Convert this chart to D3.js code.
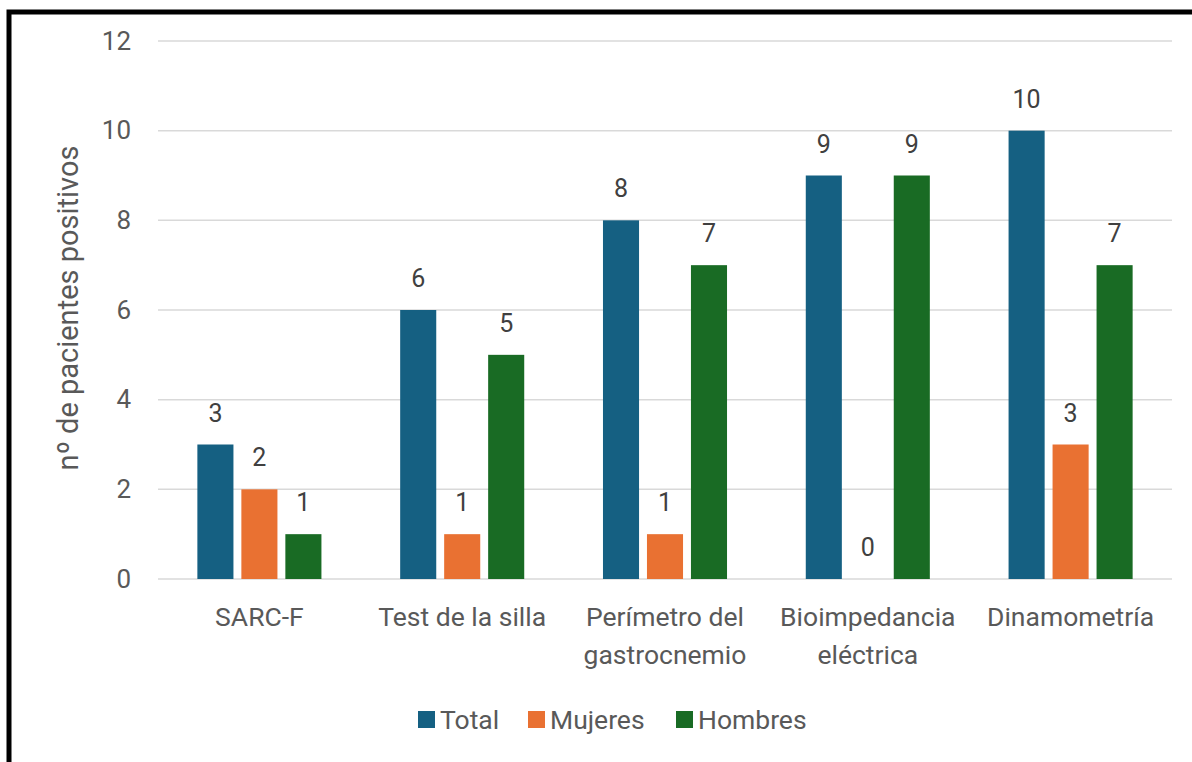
<!DOCTYPE html>
<html><head><meta charset="utf-8">
<script src="https://cdn.jsdelivr.net/npm/d3@7"></script>
<style>html,body{margin:0;padding:0;background:#fff;}</style>
</head><body>
<svg id="chart" width="1192" height="762"></svg>
<script>
const categories = [["SARC-F"], ["Test de la silla"], ["Perímetro del","gastrocnemio"], ["Bioimpedancia","eléctrica"], ["Dinamometría"]];
const seriesNames = ["Total", "Mujeres", "Hombres"];
const totalValues = [3, 6, 8, 9, 10];
const mujeresValues = [2, 1, 1, 0, 3];
const hombresValues = [1, 5, 7, 9, 7];
const yTicks = [0, 2, 4, 6, 8, 10, 12];
const colors = ["#156082", "#E97132", "#196B24"];
const yTitle = "nº de pacientes positivos";

(function(){
const series = [totalValues, mujeresValues, hombresValues];
const svg = d3.select("#chart");
const font = "Roboto, 'Liberation Sans', sans-serif";
const textColor = "#595959";

// frame border (left + top)
svg.append("path").attr("d", "M9,762 V12 H1192").attr("fill","none").attr("stroke","#000").attr("stroke-width",5);

const mLeft = 158, mRight = 1172, mTop = 41, mBottom = 579;
const x0 = d3.scaleBand().domain(d3.range(categories.length)).range([mLeft, mRight]).paddingInner(0).paddingOuter(0);
const x1 = d3.scaleBand().domain(d3.range(seriesNames.length)).range([0, x0.bandwidth()]).paddingInner(0.18).paddingOuter(0.895);
const y = d3.scaleLinear().domain([0, 12]).range([mBottom, mTop]);

// gridlines
svg.append("g").selectAll("line").data(yTicks).join("line")
  .attr("x1", mLeft).attr("x2", mRight)
  .attr("y1", d => y(d)).attr("y2", d => y(d))
  .attr("stroke", "#d9d9d9").attr("stroke-width", 1.5);

// y axis labels via d3 axis
const yAxis = svg.append("g").attr("transform", `translate(131,0)`)
  .call(d3.axisLeft(y).tickValues(yTicks).tickSize(0).tickPadding(0));
yAxis.select(".domain").remove();
yAxis.selectAll("text").attr("font-family", font).attr("font-size", 26).attr("fill", textColor);

// y title
svg.append("text").attr("transform", `translate(78,308) rotate(-90)`)
  .attr("text-anchor","middle").attr("font-family", font).attr("font-size", 29).attr("fill", textColor)
  .text(yTitle);

// bars
const groups = svg.append("g").selectAll("g").data(categories).join("g")
  .attr("transform", (d,i) => `translate(${x0(i)},0)`);
groups.each(function(cat, ci){
  const g = d3.select(this);
  series.forEach((vals, si) => {
    const v = vals[ci];
    g.append("rect").attr("x", x1(si)).attr("width", x1.bandwidth())
      .attr("y", y(v)).attr("height", mBottom - y(v)).attr("fill", colors[si]);
    g.append("text").attr("x", x1(si) + x1.bandwidth()/2).attr("y", y(v) - 23)
      .attr("text-anchor","middle").attr("font-family", font).attr("font-size", 25).attr("fill", "#404040")
      .text(v);
  });
});

// x axis labels
const xl = svg.append("g").selectAll("text").data(categories).join("text")
  .attr("x", (d,i) => x0(i) + x0.bandwidth()/2).attr("y", 626)
  .attr("text-anchor","middle").attr("font-family", font).attr("font-size", 26.5).attr("fill", textColor);
xl.each(function(lines){
  const t = d3.select(this);
  lines.forEach((ln, k) => t.append("tspan").attr("x", t.attr("x")).attr("dy", k===0?0:38).text(ln));
});

// legend
const legendX = [418, 528, 676];
const lg = svg.append("g").selectAll("g").data(seriesNames).join("g")
  .attr("transform", (d,i) => `translate(${legendX[i]},711)`);
lg.append("rect").attr("width", 17).attr("height", 17).attr("fill", (d,i) => colors[i]);
lg.append("text").attr("x", 22).attr("y", 18).attr("font-family", font).attr("font-size", 26.5).attr("fill", textColor).text(d => d);
})();
</script>
</body></html>
